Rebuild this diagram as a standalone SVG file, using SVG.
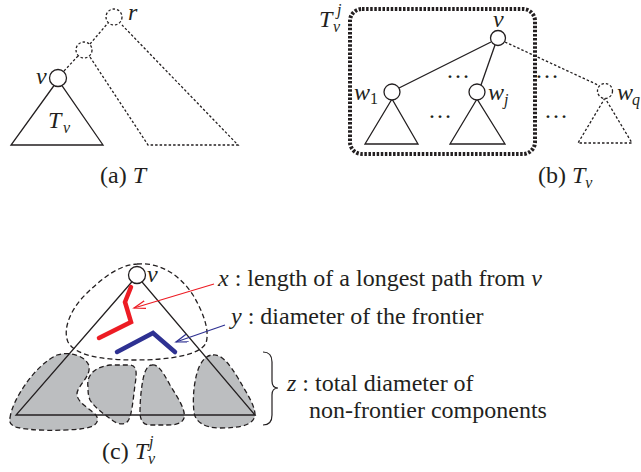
<svg xmlns="http://www.w3.org/2000/svg" width="641" height="472" viewBox="0 0 641 472">
<style>
text{font-family:"Liberation Serif","Times New Roman","DejaVu Serif",serif;font-size:24px;fill:#231f20}
.i{font-style:italic}
.sub{font-size:16px}
.ln{stroke:#231f20;stroke-width:1.3;fill:none}
.dl{stroke:#231f20;stroke-width:1.3;fill:none;stroke-dasharray:2.5 2}
.nd{fill:#fff;stroke:#231f20;stroke-width:1.3}
.ndd{fill:#fff;stroke:#231f20;stroke-width:1.3;stroke-dasharray:2.5 2}
.blob{fill:#bcbec0;stroke:#231f20;stroke-width:1.3;stroke-dasharray:5 3}
</style>
<defs>
<marker id="ar" markerUnits="userSpaceOnUse" markerWidth="14" markerHeight="10" refX="12" refY="4" orient="auto"><path d="M0,0 L12,4 L0,8" fill="none" stroke="#ed1c24" stroke-width="1.2"/></marker>
<marker id="ab" markerUnits="userSpaceOnUse" markerWidth="14" markerHeight="10" refX="12" refY="4" orient="auto"><path d="M0,0 L12,4 L0,8" fill="none" stroke="#2e3192" stroke-width="1.2"/></marker>
</defs>

<!-- Panel (a) -->
<g id="connectors-a">
<line class="dl" x1="64" y1="71" x2="78" y2="56"/>
<line class="dl" x1="90" y1="44" x2="108" y2="23"/>
<polyline class="dl" points="90,57 148,145 238,145 122,25"/>
</g>
<g id="a-Tv">
<polygon class="ln" points="58,80 11,145 103,145"/>
<text x="48" y="128" class="i">T</text><text x="63" y="133" class="i sub">v</text>
</g>
<g id="a-v"><circle class="nd" cx="58" cy="78" r="8.5"/><text x="36" y="84" class="i">v</text></g>
<g id="a-mid"><circle class="ndd" cx="84" cy="50" r="8"/></g>
<g id="a-r"><circle class="ndd" cx="114" cy="17" r="8"/><text x="128" y="20" class="i">r</text></g>
<text x="100" y="183">(a) <tspan class="i">T</tspan></text>

<!-- Panel (b) -->
<rect x="350" y="9" width="185" height="145" rx="12" fill="none" stroke="#231f20" stroke-width="4" stroke-dasharray="2.5 1.6"/>
<text x="319" y="27" class="i">T</text><text x="333" y="32" class="i sub">v</text><text x="337" y="15" class="i sub">j</text>
<g id="connectors-b">
<line class="ln" x1="491" y1="42" x2="399" y2="88"/>
<line class="ln" x1="495" y1="45" x2="481" y2="85"/>
<line class="dl" x1="505" y1="42" x2="598" y2="85"/>
</g>
<g id="b-v"><circle class="nd" cx="498" cy="38" r="7.5"/><text x="493" y="27" class="i">v</text></g>
<g id="b-w1"><polygon class="ln" points="392,99 365,144 418,144"/><circle class="nd" cx="392" cy="92" r="8"/><text x="354" y="100" class="i">w</text><text x="370" y="104" class="sub">1</text></g>
<g id="b-wj"><polygon class="ln" points="477,99 450,144 505,144"/><circle class="nd" cx="477" cy="92" r="8"/><text x="488" y="100" class="i">w</text><text x="504" y="105" class="i sub">j</text></g>
<g id="b-wq"><polygon class="dl" points="605,98 578,143 632,143"/><circle class="ndd" cx="605" cy="91" r="7.5"/><text x="617" y="100" class="i">w</text><text x="632" y="105" class="i sub">q</text></g>
<text x="446" y="78">…</text>
<text x="428" y="118">…</text>
<text x="535" y="78">…</text>
<text x="544" y="118">…</text>
<text x="538" y="183">(b) <tspan class="i">T</tspan><tspan class="i sub" dy="5">v</tspan></text>

<!-- Panel (c) -->
<g id="c-components">
<path class="blob" d="M10,418 C12,400 35,365 57,355 C70,351 86,356 89,366 C91,377 77,386 77,394 C77,404 94,410 97,417 C100,426 88,428 80,429 C60,431 30,431 16,427 C10,425 9,422 10,418 Z"/>
<path class="blob" d="M88,387 C86,375 95,367 110,365 L130,365 C137,366 137,372 135,385 C133,400 132,415 128,421 C124,426 117,424 112,420 C104,414 95,408 90,400 C88,395 88,391 88,387 Z"/>
<path class="blob" d="M152,365 C158,364 163,372 170,385 C178,398 186,410 184,418 C182,425 172,425 165,425 L150,425 C143,425 140,420 140,412 C140,398 142,380 145,372 C147,367 149,365 152,365 Z"/>
<path class="blob" d="M213,355 C222,354 230,365 238,378 C246,392 255,405 255,415 C254,425 240,428 220,428 C205,428 195,422 194,412 C192,395 195,375 200,365 C204,358 208,355 213,355 Z"/>
</g>
<g id="c-frontier">
<path d="M137,264 C160,262 180,275 193,295 C203,312 210,330 206,343 C200,355 170,360 135,360 C100,360 75,355 68,342 C62,328 72,308 85,295 C100,280 118,265 137,264 Z" fill="none" stroke="#231f20" stroke-width="1.3" stroke-dasharray="5 3"/>
</g>
<g id="c-tree">
<polygon class="ln" points="137,276 16,415 255,415"/>
<circle class="nd" cx="137" cy="275" r="8.5"/>
<text x="147" y="282" class="i">v</text>
<polyline points="131,287 125,302 131,322 99,338" fill="none" stroke="#ed1c24" stroke-width="4.5" stroke-linecap="round" stroke-linejoin="miter"/>
<polyline points="117,352 153,333 175,352" fill="none" stroke="#2e3192" stroke-width="4.5" stroke-linecap="round" stroke-linejoin="miter"/>
</g>
<g id="connectors-c">
<line x1="214" y1="284" x2="134" y2="308" stroke="#ed1c24" stroke-width="1.2" marker-end="url(#ar)"/>
<line x1="225" y1="325" x2="176" y2="342" stroke="#2e3192" stroke-width="1.2" marker-end="url(#ab)"/>
<path d="M263,352 C270,352 272,356 272,362 L272,381 C272,386 274,388 278,388 C274,388 272,390 272,395 L272,415 C272,421 270,425 263,425" fill="none" stroke="#231f20" stroke-width="1.2"/>
</g>
<text x="218" y="286"><tspan class="i">x</tspan> : length of a longest path from <tspan class="i">v</tspan></text>
<text x="231" y="324"><tspan class="i">y</tspan> : diameter of the frontier</text>
<text x="287" y="391"><tspan class="i">z</tspan> : total diameter of</text>
<text x="309" y="418">non-frontier components</text>
<text x="102" y="459">(c) <tspan class="i">T</tspan><tspan class="i sub" dy="5">v</tspan><tspan class="i sub" dx="-6" dy="-17">j</tspan></text>
</svg>
